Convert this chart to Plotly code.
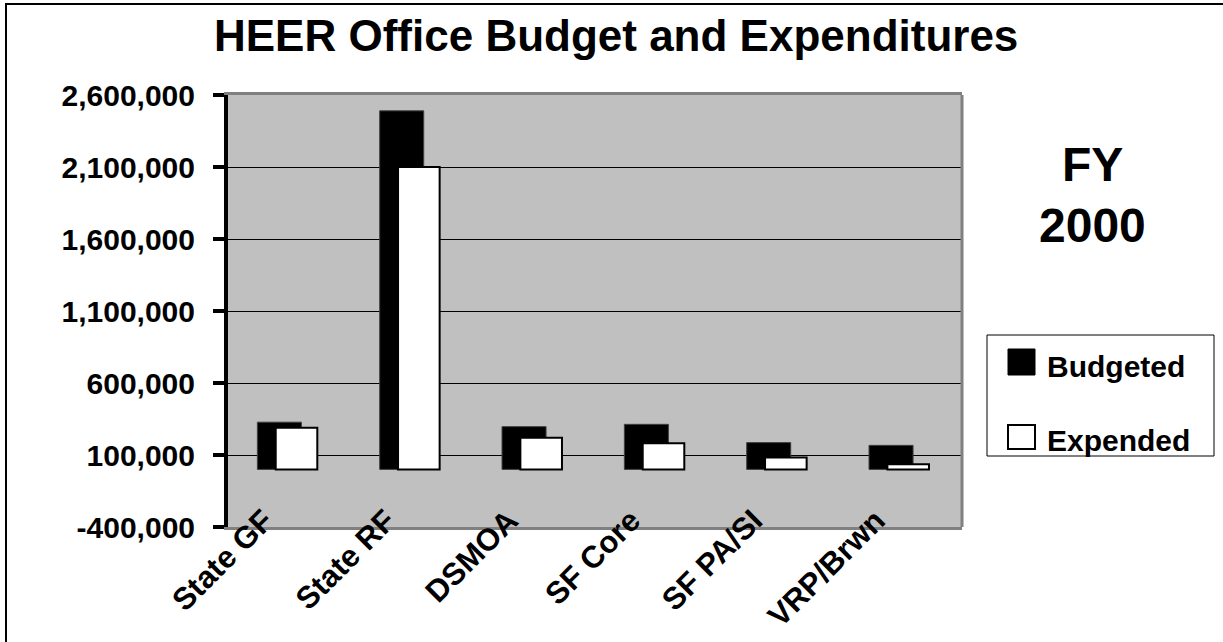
import plotly.graph_objects as go

categories = ["State GF", "State RF", "DSMOA", "SF Core", "SF PA/SI", "VRP/Brwn"]
budgeted = [328000, 2490000, 297000, 313000, 186000, 167000]
expended = [290000, 2100000, 220000, 181000, 82000, 35000]
y_ticks = [-400000, 100000, 600000, 1100000, 1600000, 2100000, 2600000]
title_text = "HEER Office Budget and Expenditures"
series_names = ["Budgeted", "Expended"]
fy_lines = ["FY", "2000"]

W, H = 1223, 642
L, R, T, B = 228, 962, 95, 527
FONT = "Liberation Sans, Arial, sans-serif"


def xp(px):
    return (px - L) / (R - L)


def yp(py):
    return (B - py) / (B - T)


fig = go.Figure()
fig.add_trace(go.Bar(
    x=categories, y=budgeted, name=series_names[0],
    marker=dict(color="#000000", line=dict(color="#404040", width=1)),
    width=0.36, offset=-0.26, showlegend=False,
))
fig.add_trace(go.Bar(
    x=categories, y=expended, name=series_names[1],
    marker=dict(color="#FFFFFF", line=dict(color="#000000", width=2)),
    width=0.34, offset=-0.11, showlegend=False,
))

shapes = [
    # outer chart border
    dict(type="rect", xref="paper", yref="paper", x0=xp(6), x1=xp(W + 10),
         y0=yp(H + 10), y1=yp(4), line=dict(color="#000000", width=2), layer="below"),
    # right border of plot area
    dict(type="line", xref="paper", yref="paper", x0=1, x1=1, y0=0, y1=1,
         line=dict(color="#808080", width=3), layer="above"),
    # legend box
    dict(type="rect", xref="paper", yref="paper", x0=xp(987), x1=xp(1214),
         y0=yp(456), y1=yp(335), line=dict(color="#000000", width=1),
         fillcolor="#FFFFFF"),
    dict(type="rect", xref="paper", yref="paper", x0=xp(1008), x1=xp(1035),
         y0=yp(375), y1=yp(349), line=dict(color="#000000", width=1),
         fillcolor="#000000"),
    dict(type="rect", xref="paper", yref="paper", x0=xp(1008), x1=xp(1035),
         y0=yp(449), y1=yp(425), line=dict(color="#000000", width=2),
         fillcolor="#FFFFFF"),
]

annotations = [
    dict(text="<b>" + title_text + "</b>", xref="paper", yref="paper",
         x=xp(616), y=yp(36), xanchor="center", yanchor="middle", showarrow=False,
         font=dict(family=FONT, size=44, color="#000000")),
    dict(text="<b>" + fy_lines[0] + "</b>", xref="paper", yref="paper",
         x=xp(1092), y=yp(164), xanchor="center", yanchor="middle", showarrow=False,
         font=dict(family=FONT, size=48, color="#000000")),
    dict(text="<b>" + fy_lines[1] + "</b>", xref="paper", yref="paper",
         x=xp(1092), y=yp(225), xanchor="center", yanchor="middle", showarrow=False,
         font=dict(family=FONT, size=48, color="#000000")),
    dict(text="<b>" + series_names[0] + "</b>", xref="paper", yref="paper",
         x=xp(1045), y=yp(366), xanchor="left", yanchor="middle", showarrow=False,
         font=dict(family=FONT, size=30, color="#000000")),
    dict(text="<b>" + series_names[1] + "</b>", xref="paper", yref="paper",
         x=xp(1045), y=yp(440), xanchor="left", yanchor="middle", showarrow=False,
         font=dict(family=FONT, size=30, color="#000000")),
]

fig.update_layout(
    width=W, height=H,
    margin=dict(l=L, r=W - R, t=T, b=H - B, pad=0),
    paper_bgcolor="#FFFFFF",
    plot_bgcolor="#C0C0C0",
    barmode="overlay",
    showlegend=False,
    shapes=shapes,
    annotations=annotations,
    font=dict(family=FONT, color="#000000"),
    xaxis=dict(
        type="category",
        showline=True, linecolor="#808080", linewidth=3, mirror=True,
        showgrid=False, ticks="", tickangle=-45,
        ticklabelstandoff=-40, ticklabelshift=-25,
        tickfont=dict(family=FONT, size=31, color="#000000", weight="bold"),
        automargin=False,
    ),
    yaxis=dict(
        range=[-400000, 2600000],
        tickvals=y_ticks,
        ticktext=[f"{v:,}" for v in y_ticks],
        showline=True, linecolor="#000000", linewidth=4, mirror=False,
        showgrid=True, gridcolor="#000000", gridwidth=1,
        zeroline=False,
        ticks="outside", ticklen=11, tickwidth=4, tickcolor="#000000",
        ticklabelstandoff=12,
        tickfont=dict(family=FONT, size=30, color="#000000", weight="bold"),
        automargin=False,
    ),
)

fig.write_html("out.html")
